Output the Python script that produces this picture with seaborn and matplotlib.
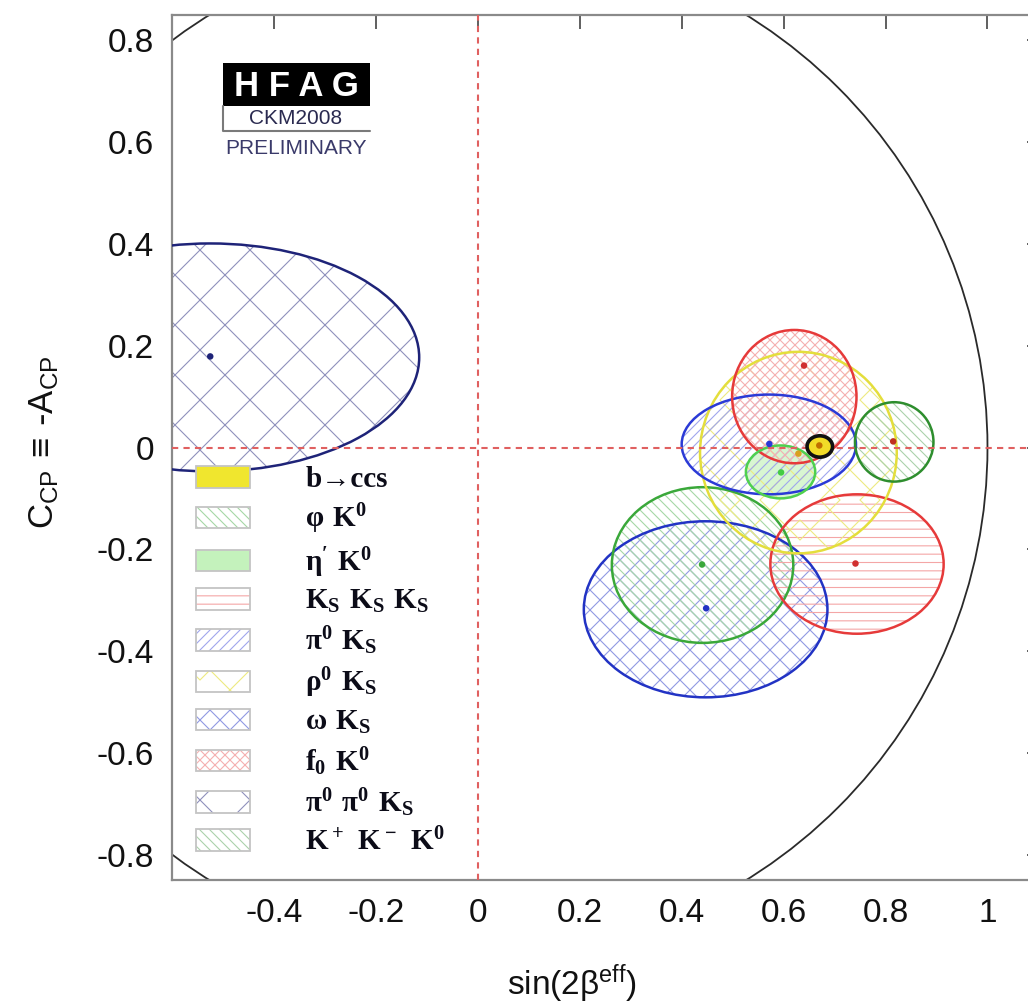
import numpy as np
import pandas as pd
import matplotlib
matplotlib.use("Agg")
import matplotlib.pyplot as plt
import seaborn as sns
from matplotlib.patches import Ellipse, Circle, Rectangle, Patch
from matplotlib import hatch as mhatch
import matplotlib.backend_bases as mbb
from matplotlib.font_manager import FontProperties

# ---------------------------------------------------------------- data
decays = ["b->ccs", "phi K0", "eta' K0", "KS KS KS", "pi0 KS",
          "rho0 KS", "omega KS", "f0 K0", "pi0 pi0 KS", "K+ K- K0"]
legend_labels = ["b→ccs",
                 r"$\mathregular{φ\ K^0}$",
                 r"$\mathregular{η'\ K^0}$",
                 r"$\mathregular{K_S\ K_S\ K_S}$",
                 r"$\mathregular{π^0\ K_S}$",
                 r"$\mathregular{ρ^0\ K_S}$",
                 r"$\mathregular{ω\ K_S}$",
                 r"$\mathregular{f_0\ K^0}$",
                 r"$\mathregular{π^0\ π^0\ K_S}$",
                 r"$\mathregular{K^+\ K^-\ K^0}$"]
# central values (sin2beta_eff, C_CP)
s_point = [0.670, 0.440, 0.595, 0.741, 0.572, 0.629, 0.448, 0.640, -0.525, 0.815]
c_point = [0.004, -0.230, -0.049, -0.228, 0.007, -0.012, -0.316, 0.161, 0.179, 0.012]
# error-ellipse centres and half-axes
s_center = [0.671, 0.441, 0.594, 0.744, 0.571, 0.629, 0.447, 0.621, -0.525, 0.817]
c_center = [0.002, -0.231, -0.048, -0.229, 0.006, -0.010, -0.318, 0.100, 0.177, 0.011]
s_err = [0.025, 0.178, 0.068, 0.170, 0.171, 0.193, 0.239, 0.122, 0.410, 0.077]
c_err = [0.021, 0.153, 0.052, 0.137, 0.098, 0.198, 0.173, 0.131, 0.224, 0.078]

xticks = [-0.4, -0.2, 0.0, 0.2, 0.4, 0.6, 0.8, 1.0]
xtick_labels = ["-0.4", "-0.2", "0", "0.2", "0.4", "0.6", "0.8", "1"]
yticks = [-0.8, -0.6, -0.4, -0.2, 0.0, 0.2, 0.4, 0.6, 0.8]
ytick_labels = ["-0.8", "-0.6", "-0.4", "-0.2", "0", "0.2", "0.4", "0.6", "0.8"]
boundary_radius = 1.0

# ---------------------------------------------------------------- styles
line_colors = ["#111111", "#3aa83a", "#4fd04f", "#e63a3a", "#2b3ad6",
               "#e4de3c", "#2233c4", "#e63a3a", "#1e2378", "#2e8e2e"]
dot_colors = ["#c07000", "#3aa83a", "#44cc44", "#d03030", "#2b3ad6",
              "#d8a020", "#2233c4", "#d03030", "#1e2378", "#c03020"]
hatches = [None, "\\" * 20, None, "-" * 12, "/" * 20,
           "x" * 5, "x" * 10, "x" * 20, "x" * 4, "\\" * 20]
hatch_pale = [0.5, 0.55, 0.5, 0.55, 0.55, 0.35, 0.5, 0.6, 0.5, 0.6]
fills = ["#f2dc28", "none", "#bff0b4", "none", "none",
         "none", "none", "none", "none", "none"]
legend_fills = ["#f0e62e", "none", "#c4f2bc", "none", "none",
                "none", "none", "none", "none", "none"]
draw_order = [8, 6, 1, 3, 5, 4, 7, 9, 2, 0]


def pale(c, f=0.55):
    r, g, b = matplotlib.colors.to_rgb(c)
    return (r + (1 - r) * f, g + (1 - g) * f, b + (1 - b) * f)


# one hatch step per inch per pattern character
def _hatch_path(self, density=6.0):
    h = self.get_hatch()
    if h is None:
        return None
    return mhatch.get_path(h, 1.0)


mbb.GraphicsContextBase.get_hatch_path = _hatch_path

sns.set_theme(style="white")
plt.rcParams["font.family"] = ["Liberation Sans", "DejaVu Sans"]
plt.rcParams["hatch.linewidth"] = 0.8
plt.rcParams["mathtext.fontset"] = "dejavusans"

W, H = 1028, 1005
fig = plt.figure(figsize=(W / 100, H / 100), dpi=100)
ax = fig.add_axes([172 / W, 1 - 880 / H, 869 / W, 865 / H])
ax.set_xlim(-0.6, 1.105)
ax.set_ylim(-0.85, 0.85)

# physical boundary
ax.add_patch(Circle((0, 0), boundary_radius, fill=False, ec="#2a2a2a",
                    lw=1.3, zorder=2.5))

# ellipses
for i in draw_order:
    if i == 0:
        ax.add_patch(Ellipse((s_center[i], c_center[i]), 2 * s_err[i], 2 * c_err[i],
                             fc=fills[i], ec=line_colors[i], lw=2.6, zorder=5))
        continue
    if fills[i] != "none":
        ax.add_patch(Ellipse((s_center[i], c_center[i]), 2 * s_err[i], 2 * c_err[i],
                             fc=fills[i], ec="none", alpha=0.6, lw=0, zorder=1.5))
    if hatches[i] is not None:
        ax.add_patch(Ellipse((s_center[i], c_center[i]), 2 * s_err[i], 2 * c_err[i],
                             fc="none", ec=pale(line_colors[i], hatch_pale[i]), lw=0,
                             hatch=hatches[i], zorder=2))
    ax.add_patch(Ellipse((s_center[i], c_center[i]), 2 * s_err[i], 2 * c_err[i],
                         fc="none", ec=line_colors[i], lw=1.8, zorder=3))

# zero lines
ax.axhline(0, color="#e06060", ls=(0, (3, 2.5)), lw=1.5, zorder=3.5)
ax.axvline(0, color="#e06060", ls=(0, (3, 2.5)), lw=1.5, zorder=3.5)

# central values
df = pd.DataFrame({"decay": decays, "S": s_point, "C": c_point})
sns.scatterplot(data=df, x="S", y="C", hue="decay",
                palette=dict(zip(decays, dot_colors)), s=22,
                edgecolor="none", legend=False, ax=ax, zorder=7)

# axes style
ax.set_xticks(xticks)
ax.set_xticklabels(xtick_labels)
ax.set_yticks(yticks)
ax.set_yticklabels(ytick_labels)
ax.tick_params(direction="in", length=10, width=1.2, color="#444444",
               top=True, right=True, labelsize=24, labelcolor="#111111", pad=13)
for sp in ax.spines.values():
    sp.set_color("#8a8a8a")
    sp.set_linewidth(1.6)
ax.set_xlabel(r"sin(2$\mathregular{β^{eff}}$)", fontsize=24, color="#111111")
ax.xaxis.set_label_coords(0.46, -0.095)
ax.set_ylabel(r"$\mathregular{C_{CP}\ ≡\ \text{-}A_{CP}}$", fontsize=25, color="#111111")
ax.yaxis.set_label_coords(-0.128, 0.506)

# legend
handles = []
for i in range(len(decays)):
    hp = Patch(fc=legend_fills[i],
               ec=pale(line_colors[i], hatch_pale[i]) if hatches[i] else "none",
               lw=0, hatch=hatches[i])
    bp = Patch(fc="none", ec="#c4c4c4", lw=1.3)
    handles.append((hp, bp))
leg = ax.legend(handles, legend_labels, loc="upper left",
                bbox_to_anchor=(196 / W, 1 - 466 / H), bbox_transform=fig.transFigure,
                frameon=False, borderpad=0, borderaxespad=0,
                handlelength=1.85, handleheight=0.75, handletextpad=1.9,
                labelspacing=0.3,
                prop=FontProperties(family="Liberation Serif", weight="bold", size=21))
for t in leg.get_texts():
    t.set_color("#0c0c18")

# HFAG logo
def fx(x):
    return x / W


def fy(y):
    return 1 - y / H


fig.add_artist(Rectangle((fx(223), fy(106)), fx(370) - fx(223), fy(63) - fy(106),
                         transform=fig.transFigure, fc="black", ec="none"))
fig.text(fx(296), fy(86), "H F A G", ha="center", va="center", color="white",
         fontsize=25, fontweight="bold", family="Liberation Sans")
fig.add_artist(plt.Line2D([fx(223), fx(223), fx(370)], [fy(106), fy(131), fy(131)],
                          transform=fig.transFigure, color="#7a7a7a", lw=1.5))
fig.text(fx(296), fy(118), "CKM2008", ha="center", va="center", color="#2a2a50",
         fontsize=15, family="Liberation Sans")
fig.text(fx(296), fy(148), "PRELIMINARY", ha="center", va="center", color="#3a3a6a",
         fontsize=15, family="Liberation Sans")

fig.savefig("out.png", dpi=100)
